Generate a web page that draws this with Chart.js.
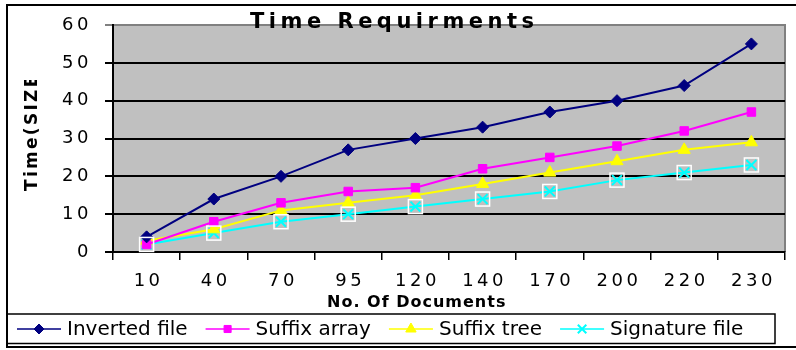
<!DOCTYPE html>
<html>
<head>
<meta charset="utf-8">
<script src="https://cdn.jsdelivr.net/npm/chart.js@4.4.1/dist/chart.umd.min.js"></script>
<style>
html, body { margin: 0; padding: 0; background: #fff; }
canvas { display: block; }
</style>
</head>
<body>
<canvas id="timeChart" width="796" height="350"></canvas>
<script>
// données
const docCounts = ["10", "40", "70", "95", "120", "140", "170", "200", "220", "230"];
const invertedFile = [4, 14, 20, 27, 30, 33, 37, 40, 44, 55];
const suffixArray = [2, 8, 13, 16, 17, 22, 25, 28, 32, 37];
const suffixTree = [3, 6, 11, 13, 15, 18, 21, 24, 27, 29];
const signatureFile = [2, 5, 8, 10, 12, 14, 16, 19, 21, 23];
const seriesNames = ["Inverted file", "Suffix array", "Suffix tree", "Signature file"];
const yTicks = [0, 10, 20, 30, 40, 50, 60];

const chartTitle = "Time Requirments";
const xTitle = "No. Of Documents";
const yTitle = "Time(SIZE";

const FONT = "'DejaVu Sans', sans-serif";
const TICK_SPACING = "3.5px";

// fond, cadre, titres et légende
const decorPlugin = {
    id: "decor",
    beforeLayout(chart) {
        chart.ctx.letterSpacing = TICK_SPACING;
    },
    beforeDraw(chart) {
        const ctx = chart.ctx;
        const a = chart.chartArea;
        ctx.save();
        ctx.fillStyle = "#fff";
        ctx.fillRect(0, 0, chart.width, chart.height);
        ctx.fillStyle = "#c0c0c0";
        ctx.fillRect(a.left, a.top, a.right - a.left, a.bottom - a.top);
        ctx.strokeStyle = "#808080";
        ctx.lineWidth = 2;
        ctx.beginPath();
        ctx.moveTo(a.left, a.top);
        ctx.lineTo(a.right, a.top);
        ctx.lineTo(a.right, a.bottom);
        ctx.stroke();
        ctx.restore();
        ctx.letterSpacing = TICK_SPACING;
    },
    afterDatasetsDraw(chart) {
        // petits carrés blancs autour des points "Signature file"
        const ctx = chart.ctx;
        const meta = chart.getDatasetMeta(3);
        ctx.save();
        ctx.strokeStyle = "#fff";
        ctx.lineWidth = 1.5;
        meta.data.forEach(pt => {
            ctx.strokeRect(pt.x - 7, pt.y - 7, 14, 14);
        });
        ctx.restore();
    },
    afterDraw(chart) {
        const ctx = chart.ctx;
        ctx.save();
        ctx.fillStyle = "#000";
        ctx.strokeStyle = "#000";

        // titre
        ctx.font = "bold 21px " + FONT;
        ctx.letterSpacing = "4.5px";
        ctx.textAlign = "left";
        ctx.textBaseline = "alphabetic";
        ctx.fillText(chartTitle, 250, 28);

        // titre axe X
        ctx.font = "bold 16px " + FONT;
        ctx.letterSpacing = "1px";
        ctx.fillText(xTitle, 327, 307);

        // titre axe Y (coupé en haut)
        ctx.save();
        ctx.beginPath();
        ctx.rect(0, 80, 60, 200);
        ctx.clip();
        ctx.translate(37, 191);
        ctx.rotate(-Math.PI / 2);
        ctx.font = "bold 17px " + FONT;
        ctx.letterSpacing = "2.3px";
        ctx.fillText(yTitle, 0, 0);
        ctx.restore();

        // cadre extérieur
        ctx.lineWidth = 2;
        ctx.beginPath();
        ctx.moveTo(6, 5);
        ctx.lineTo(796, 5);
        ctx.moveTo(7, 5);
        ctx.lineTo(7, 348);
        ctx.moveTo(6, 347);
        ctx.lineTo(796, 347);
        ctx.stroke();

        // boîte de légende
        ctx.lineWidth = 1.5;
        ctx.strokeRect(7, 314, 768, 29.5);

        // légende
        ctx.font = "20px " + FONT;
        ctx.letterSpacing = "0px";
        let x = 17;
        const ly = 329;
        chart.data.datasets.forEach(ds => {
            ctx.strokeStyle = ds.borderColor;
            ctx.lineWidth = 1.5;
            ctx.beginPath();
            ctx.moveTo(x, ly);
            ctx.lineTo(x + 44, ly);
            ctx.stroke();
            ctx.fillStyle = ds.pointBackgroundColor;
            ctx.strokeStyle = ds.pointBorderColor;
            ctx.lineWidth = ds.pointBorderWidth;
            Chart.helpers.drawPoint(ctx, {
                pointStyle: ds.pointStyle,
                radius: ds.pointRadius - 1,
                rotation: 0,
                borderWidth: ds.pointBorderWidth
            }, x + 22, ly);
            ctx.fillStyle = "#000";
            ctx.fillText(ds.label, x + 50, 335);
            x += 50 + ctx.measureText(ds.label).width + 18;
        });
        ctx.restore();
        ctx.letterSpacing = TICK_SPACING;
    }
};

function makeSet(label, values, color, style, radius, bw) {
    return {
        label: label,
        data: values,
        borderColor: color,
        backgroundColor: color,
        borderWidth: 2,
        pointStyle: style,
        pointRadius: radius,
        pointBackgroundColor: color,
        pointBorderColor: color,
        pointBorderWidth: bw,
        tension: 0,
        fill: false
    };
}

new Chart(document.getElementById("timeChart"), {
    type: "line",
    data: {
        labels: docCounts,
        datasets: [
            makeSet(seriesNames[0], invertedFile, "#000080", "rectRot", 6, 1),
            makeSet(seriesNames[1], suffixArray, "#ff00ff", "rect", 6, 1),
            makeSet(seriesNames[2], suffixTree, "#ffff00", "triangle", 7, 1),
            makeSet(seriesNames[3], signatureFile, "#00ffff", "crossRot", 7, 2)
        ]
    },
    options: {
        responsive: false,
        animation: false,
        events: [],
        devicePixelRatio: 1,
        layout: { padding: { left: 0, right: 11, top: 25, bottom: 38 } },
        plugins: {
            legend: { display: false },
            title: { display: false },
            tooltip: { enabled: false }
        },
        scales: {
            x: {
                offset: true,
                grid: {
                    offset: true,
                    drawOnChartArea: false,
                    drawTicks: true,
                    tickLength: 8,
                    color: "#000",
                    lineWidth: 1.5
                },
                border: { color: "#000", width: 2 },
                ticks: {
                    color: "#000",
                    font: { family: FONT, size: 18 },
                    padding: 11,
                    labelOffset: 2,
                    maxRotation: 0,
                    autoSkip: false
                },
                afterFit(scale) { scale.height = 60; }
            },
            y: {
                min: yTicks[0],
                max: yTicks[yTicks.length - 1],
                afterBuildTicks(scale) {
                    scale.ticks = yTicks.map(v => ({ value: v }));
                },
                grid: {
                    color: c => (c.tick && c.tick.value === 60 ? "#808080" : "#000"),
                    lineWidth: 2,
                    tickLength: 8
                },
                border: { color: "#000", width: 2 },
                ticks: {
                    color: "#000",
                    font: { family: FONT, size: 18 },
                    padding: 13
                },
                afterFit(scale) { scale.width = 113; }
            }
        }
    },
    plugins: [decorPlugin]
});
</script>
</body>
</html>
